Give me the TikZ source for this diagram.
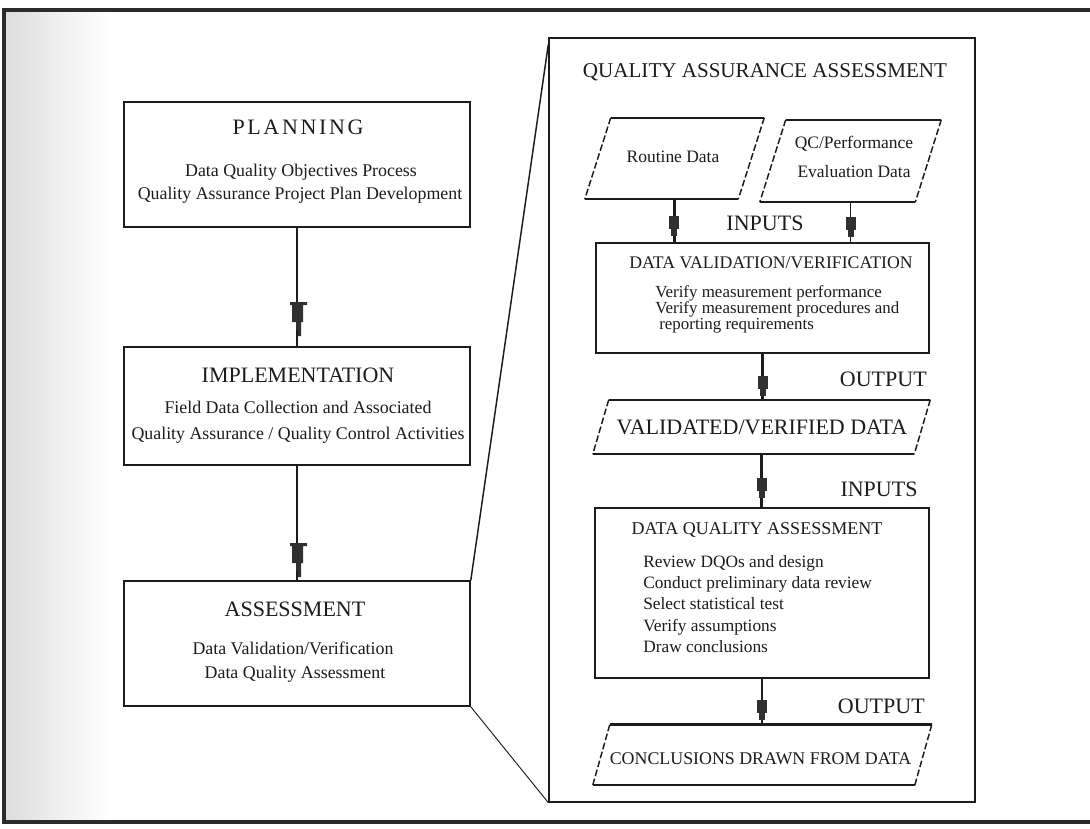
\documentclass[tikz,border=0pt]{standalone}
\usepackage{fontspec}
\setmainfont{Liberation Serif}
\usetikzlibrary{fit,calc}
\definecolor{ink}{HTML}{1C1C1C}
\definecolor{mk}{HTML}{303030}
\definecolor{framec}{HTML}{2B2B2B}
\newcommand\drawpgram[3][]{%
  \draw[pedge,#1] ($(#2.north west)+(#3,0)$) -- ($(#2.north east)+(#3,0)$);
  \draw[pedge] ($(#2.south west)-(#3,0)$) -- ($(#2.south east)-(#3,0)$);
  \draw[pside] ($(#2.north west)+(#3,0)$) -- ($(#2.south west)-(#3,0)$);
  \draw[pside] ($(#2.north east)+(#3,0)$) -- ($(#2.south east)-(#3,0)$);}
\begin{document}
\begin{tikzpicture}[x=0.75pt,y=-0.75pt,
  box/.style={draw=ink,line width=1.2pt,inner sep=0pt},
  hold/.style={inner sep=0pt},
  pedge/.style={draw=ink,line width=1.5pt},
  pside/.style={draw=ink,line width=1.1pt,dash pattern=on 5pt off 2pt},
  thinc/.style={draw=ink,line width=0.8pt},
  thickc/.style={draw=ink,line width=1.8pt},
  medc/.style={draw=ink,line width=1.1pt},
  zoomline/.style={draw=ink,line width=1.1pt},
  txt/.style={inner sep=0pt,text=ink},
  ttl/.style={txt,font=\fontsize{16.5}{19}\selectfont},
  qattl/.style={txt,font=\fontsize{15.8}{19}\selectfont},
  bodyL/.style={txt,font=\fontsize{13.4}{16}\selectfont},
  bodyR/.style={txt,font=\fontsize{13.1}{21.75}\selectfont},
  dvttl/.style={txt,font=\fontsize{13.3}{16}\selectfont},
  dvbody/.style={txt,font=\fontsize{12.7}{12}\selectfont},
  dqattl/.style={txt,font=\fontsize{13.5}{16}\selectfont},
  dqabody/.style={txt,font=\fontsize{13}{15.9}\selectfont},
  lbl/.style={txt,font=\fontsize{16.5}{19}\selectfont},
  concltxt/.style={txt,font=\fontsize{13.4}{16}\selectfont},
  mktee/.pic={\fill[mk] (-8,0) -- (9,0) -- (9,3) -- (5,3) -- (5,20) -- (3,20) -- (3,34) -- (0,34) -- (0,28) -- (-2,28) -- (-2,20) -- (-6,20) -- (-6,3) -- (-8,3) -- cycle;},
  mktab/.pic={\fill[mk] (-5,0) rectangle (5,13); \fill[mk] (-3,13) rectangle (3,20);}
]
\clip (0,0) rectangle (1090,829);
\fill[white] (0,0) rectangle (1090,829);
\shade[left color=black!13, right color=white] (6,12) rectangle (110,820);
\draw[framec, line width=3pt] (1100,10) -- (4,10) -- (4,822) -- (1100,822);

% left column
\node[box, fit={(124,102) (470,227)}] (plan) {};
\node[ttl] (planT) at (298,127) {\addfontfeature{LetterSpace=12}PLANNING};
\node[bodyL] (planA) at (301,172) {Data Quality Objectives Process};
\node[bodyL] (planB) at (300,195) {Quality Assurance Project Plan Development};

\node[box, fit={(124,347) (470,465)}] (impl) {};
\node[ttl] (implT) at (298,375) {IMPLEMENTATION};
\node[bodyL] (implA) at (298,407) {Field Data Collection and Associated};
\node[bodyL] (implB) at (298,435) {Quality Assurance / Quality Control Activities};

\node[box, fit={(124,581) (470,706)}] (assess) {};
\node[ttl] (assT) at (295,609) {ASSESSMENT};
\node[bodyL] (assA) at (293,648) {Data Validation/Verification};
\node[bodyL] (assB) at (295,674) {Data Quality Assessment};

\draw[thinc] (plan) -- (impl);
\path (298,302) pic{mktee};
\draw[thinc] (impl) -- (assess);
\path (298,543) pic{mktee};

% right panel
\node[box, line width=1pt, fit={(549,38) (975,802)}] (qa) {};
\node[qattl] (qaT) at (765,72) {QUALITY ASSURANCE ASSESSMENT};

\node[hold, fit={(598,118) (751,199)}] (routine) {};
\node[bodyR] (routineT) at (673,157) {Routine Data};
\drawpgram{routine}{13}
\node[hold, fit={(773,120) (928,202)}] (qc) {};
\node[bodyR, align=center] (qcT) at (854,157) {QC/Performance\\Evaluation Data};
\drawpgram{qc}{13}

\node[box, fit={(596,243) (929,353)}] (dv) {};
\node[dvttl] (dvT) at (771,263) {DATA VALIDATION/VERIFICATION};
\node[dvbody, align=left, anchor=west] (dvL) at (655,309) {Verify measurement performance\\Verify measurement procedures and\\\hspace*{3pt}reporting requirements};

\draw[thickc] (routine.south) -- (routine.south |- dv.north);
\path (674,216) pic{mktab};
\draw[medc] (qc.south) -- (qc.south |- dv.north);
\path (850.5,217) pic{mktab};
\node[lbl] (in1) at (765,223) {INPUTS};

\node[hold, fit={(601,400) (922,454)}] (val) {};
\node[ttl] (valT) at (762,427) {VALIDATED/VERIFIED DATA};
\drawpgram{val}{8}
\draw[thickc] (dv.south) -- (dv.south |- val.north);
\path (762.5,376) pic{mktab};
\node[lbl, anchor=east] (out1) at (927,379) {OUTPUT};

\node[box, fit={(595,508) (929,678)}] (dqa) {};
\node[dqattl] (dqaT) at (757,530) {DATA QUALITY ASSESSMENT};
\node[dqabody, align=left, anchor=west] (dqaL) at (643,604) {Review DQOs and design\\Conduct preliminary data review\\Select statistical test\\Verify assumptions\\Draw conclusions};
\draw[thickc] (val.south) -- (val.south |- dqa.north);
\path (762,478) pic{mktab};
\node[lbl] (in2) at (879,489) {INPUTS};

\node[hold, fit={(601.5,725) (923,785)}] (concl) {};
\node[concltxt] (conclT) at (760.5,759) {CONCLUSIONS DRAWN FROM DATA};
\drawpgram[line width=2.4pt]{concl}{8.5}
\draw[thickc] (dqa.south) -- (dqa.south |- concl.north);
\path (762,700) pic{mktab};
\node[lbl, anchor=east] (out2) at (925,706) {OUTPUT};

% zoom lines
\draw[zoomline] (assess.north east) -- ($(qa.north west)+(0,7)$);
\draw[zoomline, line width=0.7pt] (assess.south east) -- (qa.south west);
\end{tikzpicture}
\end{document}
